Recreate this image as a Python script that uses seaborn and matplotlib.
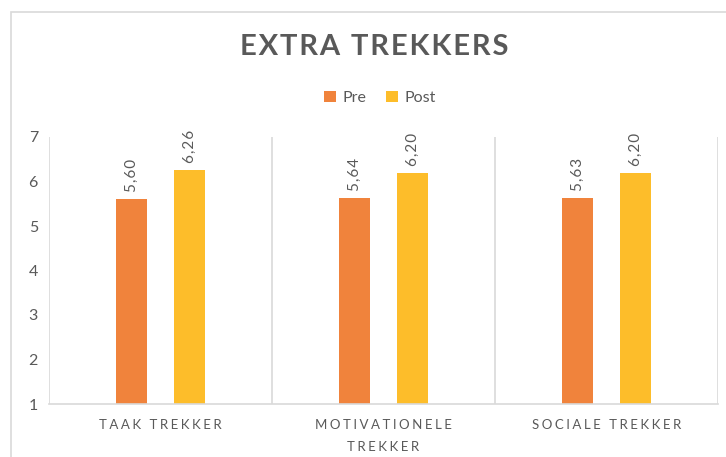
import matplotlib
matplotlib.use("Agg")
import matplotlib.pyplot as plt
from matplotlib.patches import Rectangle, Patch
import seaborn as sns
import pandas as pd

categories = ["TAAK TREKKER", "MOTIVATIONELE\nTREKKER", "SOCIALE TREKKER"]
pre_values = [5.60, 5.64, 5.63]
post_values = [6.26, 6.20, 6.20]
series_names = ["Pre", "Post"]
y_ticks = [1, 2, 3, 4, 5, 6, 7]
title_text = "EXTRA TREKKERS"

colors = {"Pre": "#F0833C", "Post": "#FDBD2A"}
text_gray = "#595959"
grid_gray = "#D9D9D9"

sns.set_theme(style="white")
plt.rcParams["font.family"] = ["Lato", "DejaVu Sans"]


def spaced(s, sep="\u2009"):
    return "\n".join(sep.join(line) for line in s.split("\n"))


df = pd.DataFrame({
    "category": categories * 2,
    "series": [series_names[0]] * 3 + [series_names[1]] * 3,
    "value": pre_values + post_values,
})

fig = plt.figure(figsize=(7.26, 4.57), dpi=100)
ax = fig.add_axes([49 / 726, 1 - 404 / 457, (718 - 49) / 726, (404 - 137) / 457])

sns.barplot(data=df, x="category", y="value", hue="series", order=categories,
            hue_order=series_names, palette=colors, saturation=1, width=0.52, gap=0.48,
            errorbar=None, ax=ax, legend=False, linewidth=0)

ax.set_ylim(1, 7)
ax.set_xlim(-0.5, 2.5)
ax.set_yticks(y_ticks)
ax.set_yticklabels([str(t) for t in y_ticks], color=text_gray, fontsize=11.5)
ax.tick_params(axis="y", length=0, pad=8)

ax.set_xticks(range(len(categories)))
ax.set_xticklabels([spaced(c, "\u2009\u200a") for c in categories], color=text_gray,
                   fontsize=9.5, linespacing=2.0)
ax.tick_params(axis="x", which="major", length=0, pad=11)
ax.set_xticks([-0.5, 0.5, 1.5, 2.5], minor=True)
ax.tick_params(axis="x", which="minor", length=5, width=1.2, color=grid_gray, direction="out")
ax.grid(axis="x", which="minor", color=grid_gray, linewidth=1.2)
ax.grid(axis="y", visible=False)
ax.grid(axis="x", which="major", visible=False)
ax.set_xlabel("")
ax.set_ylabel("")

for side in ["top", "right", "left"]:
    ax.spines[side].set_visible(False)
ax.spines["bottom"].set_color(grid_gray)
ax.spines["bottom"].set_linewidth(1.2)

# Rotated value labels above every bar
for container in ax.containers:
    for bar in container:
        h = bar.get_height()
        ax.annotate(spaced(f"{h:.2f}".replace(".", ","), "\u200a"),
                    xy=(bar.get_x() + bar.get_width() / 2, h),
                    xytext=(0, 5), textcoords="offset points",
                    rotation=90, ha="center", va="bottom",
                    fontsize=11, color=text_gray)

fig.text(374 / 726, 1 - 47 / 457, spaced(title_text, "\u200a"), ha="center", va="center",
         fontsize=21, fontweight="bold", color=text_gray)

handles = [Patch(facecolor=colors[s], edgecolor="none", label=s) for s in series_names]
fig.legend(handles=handles, loc="center", bbox_to_anchor=(380 / 726, 1 - 98 / 457),
           ncol=2, frameon=False, fontsize=11.5, handlelength=0.75, handleheight=0.75,
           handletextpad=0.4, columnspacing=1.2, labelcolor=text_gray)

# Chart frame
fig.patches.append(Rectangle((11 / 726, -0.1), 1.2, 1 - 12 / 457 + 0.1,
                             transform=fig.transFigure, fill=False,
                             edgecolor=grid_gray, linewidth=1.2))

fig.savefig("out.png", dpi=100)
